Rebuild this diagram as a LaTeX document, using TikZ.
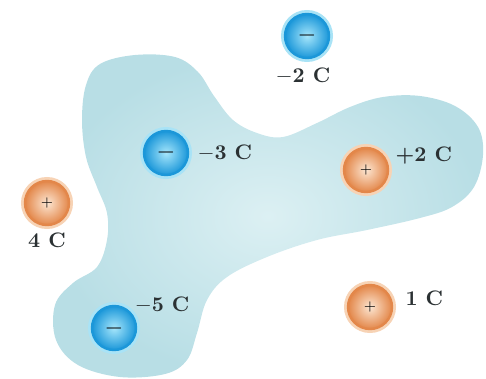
\documentclass[tikz,border=0pt]{standalone}
\usetikzlibrary{positioning}
\definecolor{blobfill}{HTML}{B8DEE5}
\definecolor{blobcore}{HTML}{DCF0F3}
\definecolor{negring}{HTML}{1B97D9}
\definecolor{negcore}{HTML}{A6E6FB}
\definecolor{negglow}{HTML}{A9E3F6}
\definecolor{posring}{HTML}{E3874A}
\definecolor{poscore}{HTML}{FCE6D2}
\definecolor{posglow}{HTML}{F7D3B5}
\definecolor{labeltext}{HTML}{2B3133}
\tikzset{
    negcharge/.style={circle,draw=negring,line width=1.2pt,inner color=negcore,outer color=negring,minimum size=22pt,inner sep=0pt,font=\large\bfseries,preaction={draw=negglow,line width=4pt}},
    poscharge/.style={circle,draw=posring,line width=1.2pt,inner color=poscore,outer color=posring,minimum size=22pt,inner sep=0pt,font=\scriptsize,preaction={draw=posglow,line width=4pt}},
    chargelabel/.style={inner sep=1pt,text=labeltext,font=\fontsize{10.5}{12}\selectfont\bfseries},
    blob/.style={inner color=blobcore,outer color=blobfill}
}
\begin{document}
\begin{tikzpicture}[x=0.5pt,y=-0.5pt]
    \useasboundingbox (0,0) rectangle (486,379);
    % the body
    \shade[blob] plot[smooth cycle,tension=0.6] coordinates {
        (82,120) (86,85) (100,64) (135,55) (175,57) (198,72) (214,96)
        (233,120) (257,133) (283,137) (317,123) (350,107) (383,97)
        (420,96) (455,106) (478,127) (483,155) (474,187) (452,207)
        (420,218) (367,230) (317,240) (267,257) (227,277) (207,300)
        (197,333) (187,360) (165,374) (120,377) (78,365) (56,340)
        (55,305) (73,283) (97,267) (107,240) (107,213) (97,187) (86,157)};
    % charges
    \node[negcharge] (ntwo) at (307,36) {$-$};
    \node[negcharge] (nthree) at (166,153) {$-$};
    \node[negcharge] (nfive) at (114,328) {$-$};
    \node[poscharge] (ptwo) at (366,170) {$+$};
    \node[poscharge] (pfour) at (47,203) {$+$};
    \node[poscharge] (pone) at (370,307) {$+$};
    % labels
    \node[chargelabel,below=3pt of ntwo,xshift=-2pt] (ltwo) {$-$2 C};
    \node[chargelabel,right=3pt of nthree] (lthree) {$-$3 C};
    \node[chargelabel,above right=-2pt and 1pt of nfive] (lfive) {$-$5 C};
    \node[chargelabel,right=2pt of ptwo,yshift=7pt] (lptwo) {+2 C};
    \node[chargelabel,below=2pt of pfour] (lfour) {4 C};
    \node[chargelabel,right=5pt of pone,yshift=4.5pt] (lone) {1 C};
\end{tikzpicture}
\end{document}
